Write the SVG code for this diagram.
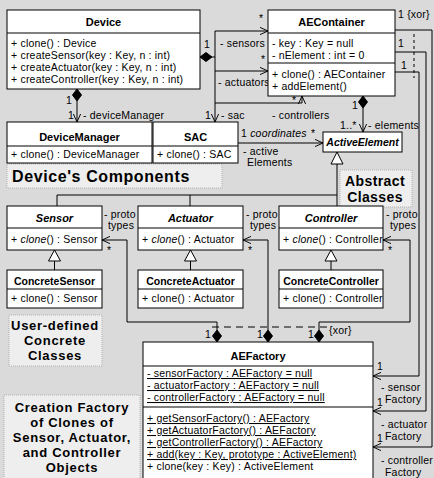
<svg xmlns="http://www.w3.org/2000/svg" width="434" height="478" viewBox="0 0 434 478">
<defs>
<marker id="oa" viewBox="0 0 10 10" refX="10" refY="5" markerWidth="8" markerHeight="8" orient="auto" markerUnits="userSpaceOnUse"><path d="M0,0.5 L10,5 L0,9.5" fill="none" stroke="#000" stroke-width="1.2"/></marker>
<style>
.box{fill:#fff;stroke:#000;stroke-width:1}
.ln{fill:none;stroke:#000;stroke-width:1}
.dash{fill:none;stroke:#000;stroke-width:1.2;stroke-dasharray:7 5}
.dsh{fill:none;stroke:#000;stroke-width:1;stroke-dasharray:3 3}
.dia{fill:#000;stroke:#000}
.tri{fill:#fff;stroke:#000;stroke-width:1}
text{font-family:"Liberation Sans",Arial,sans-serif;fill:#000}
.t{font-size:10.5px;letter-spacing:0.2px}
.ti{font-size:11px;font-weight:bold;text-anchor:middle}
.tc{font-size:10.5px;font-weight:bold;text-anchor:middle}
.it{font-style:italic}
.u{text-decoration:underline}
.lb{font-size:13px;font-weight:bold;text-anchor:middle;letter-spacing:0.7px}
.lbox{fill:#eeeeee;stroke:#b0b0b0;stroke-width:1;stroke-dasharray:1 1}
</style>
</defs>
<rect x="0" y="0" width="434" height="478" fill="#dadada"/>

<g id="label-components">
<rect class="lbox" x="7" y="164" width="215" height="24"/>
<text x="12" y="182" style="font-size:16px;font-weight:bold;letter-spacing:0.6px">Device's Components</text>
</g>
<g id="label-abstract">
<rect class="lbox" x="340" y="170" width="72" height="37"/>
<text class="lb" x="375" y="186" style="font-size:14px;letter-spacing:0.4px">Abstract</text>
<text class="lb" x="375" y="202" style="font-size:14px;letter-spacing:0.4px">Classes</text>
</g>
<g id="label-userdefined">
<rect class="lbox" x="9" y="315" width="93" height="51"/>
<text class="lb" x="55" y="330">User-defined</text>
<text class="lb" x="55" y="345">Concrete</text>
<text class="lb" x="55" y="360">Classes</text>
</g>
<g id="label-factory">
<rect class="lbox" x="4" y="395" width="136" height="90"/>
<text class="lb" x="72" y="412">Creation Factory</text>
<text class="lb" x="72" y="427">of Clones of</text>
<text class="lb" x="72" y="442">Sensor, Actuator,</text>
<text class="lb" x="72" y="457">and Controller</text>
<text class="lb" x="72" y="472">Objects</text>
</g>

<g id="connectors">
<polygon class="dia" points="200,57 206,52.5 212,57 206,61.5"/>
<path class="ln" d="M212,57 H215"/>
<path class="ln" d="M215,31 V122" marker-end="url(#oa)"/>
<path class="ln" d="M215,31 H268" marker-end="url(#oa)"/>
<path class="ln" d="M215,71 H268" marker-end="url(#oa)"/>
<path class="ln" d="M215,103 H302 V96" marker-end="url(#oa)"/>
<polygon class="dia" points="77,89 81.5,95 77,101 72.5,95"/>
<path class="ln" d="M77,101 V122" marker-end="url(#oa)"/>
<polygon class="dia" points="363,96 367.5,102 363,108 358.5,102"/>
<path class="ln" d="M363,108 V132" marker-end="url(#oa)"/>
<path class="ln" d="M238,143 H323" marker-end="url(#oa)"/>
<polygon class="tri" points="337,152 343,164 331,164"/>
<path class="ln" d="M337,164 V206 M57,206 V195 H337 M190,195 V206"/>
<polygon class="tri" points="54.5,250 60.5,261 48.5,261"/>
<path class="ln" d="M54.5,261 V270"/>
<polygon class="tri" points="190.5,250 196.5,261 184.5,261"/>
<path class="ln" d="M190.5,261 V270"/>
<polygon class="tri" points="331,250 337,261 325,261"/>
<path class="ln" d="M331,261 V270"/>
<path class="ln" d="M217,330 V322 H127 V240 H102" marker-end="url(#oa)"/>
<path class="ln" d="M268,330 V240 H243" marker-end="url(#oa)"/>
<path class="ln" d="M319,330 V322 H410 V240 H383" marker-end="url(#oa)"/>
<polygon class="dia" points="217,330 221.5,336 217,342 212.5,336"/>
<polygon class="dia" points="268,330 272.5,336 268,342 263.5,336"/>
<polygon class="dia" points="319,330 323.5,336 319,342 314.5,336"/>
<path class="dash" d="M212,327 H327"/>
<path class="ln" d="M395,30 H432 V447 H373" marker-end="url(#oa)"/>
<path class="ln" d="M395,52 H426 V411 H373" marker-end="url(#oa)"/>
<path class="ln" d="M395,72 H419 V376 H373" marker-end="url(#oa)"/>
<path class="dsh" d="M414,34 V78"/>

<text class="t" x="204" y="48">1</text>
<text class="t" x="220" y="47">- sensors</text>
<text class="t" x="259" y="22">*</text>
<text class="t" x="218" y="86">- actuators</text>
<text class="t" x="261" y="63">*</text>
<text class="t" x="292" y="104">*</text>
<text class="t" x="272" y="119">- controllers</text>
<text class="t" x="205" y="119">1</text>
<text class="t" x="221" y="119">- sac</text>
<text class="t" x="66" y="104">1</text>
<text class="t" x="68" y="119">1</text>
<text class="t" x="83" y="119">- deviceManager</text>
<text class="t" x="352" y="109">1</text>
<text class="t" x="340" y="129">1..*</text>
<text class="t" x="368" y="129">- elements</text>
<text class="t" x="241" y="137">1 <tspan class="it">coordinates</tspan></text>
<text class="t" x="311" y="137">*</text>
<text class="t" x="243" y="155">- active</text>
<text class="t" x="247" y="166">Elements</text>
<text class="t" x="104" y="218">- proto</text>
<text class="t" x="108" y="229">types</text>
<text class="t" x="107" y="254">*</text>
<text class="t" x="246" y="218">- proto</text>
<text class="t" x="250" y="229">types</text>
<text class="t" x="248" y="254">*</text>
<text class="t" x="386" y="218">- proto</text>
<text class="t" x="390" y="229">types</text>
<text class="t" x="388" y="254">*</text>
<text class="t" x="205" y="338">1</text>
<text class="t" x="257" y="338">1</text>
<text class="t" x="308" y="338">1</text>
<text class="t" x="329" y="334">{xor}</text>
<text class="t" x="398" y="18">1  {xor}</text>
<text class="t" x="398" y="47">1</text>
<text class="t" x="401" y="69">1</text>
<text class="t" x="377" y="370">1</text>
<text class="t" x="381" y="391">- sensor</text>
<text class="t" x="385" y="403">Factory</text>
<text class="t" x="377" y="406">1</text>
<text class="t" x="381" y="428">- actuator</text>
<text class="t" x="385" y="440">Factory</text>
<text class="t" x="377" y="442">1</text>
<text class="t" x="381" y="464">- controller</text>
<text class="t" x="385" y="476">Factory</text>
</g>

<g id="Device">
<rect class="box" x="7" y="10" width="193" height="79"/>
<path class="ln" d="M7,33 H200"/>
<text class="ti" x="103.5" y="26">Device</text>
<text class="t" x="11" y="47">+ clone() : Device</text>
<text class="t" x="11" y="59">+ createSensor(key : Key, n : int)</text>
<text class="t" x="11" y="71">+ createActuator(key : Key, n : int)</text>
<text class="t" x="11" y="83">+ createController(key : Key, n : int)</text>
</g>

<g id="AEContainer">
<rect class="box" x="268" y="10" width="127" height="86"/>
<path class="ln" d="M268,33 H395 M268,63 H395"/>
<text class="ti" x="331.5" y="26">AEContainer</text>
<text class="t" x="272" y="47">- key : Key = null</text>
<text class="t" x="272" y="59">- nElement : int = 0</text>
<text class="t" x="272" y="78">+ clone() : AEContainer</text>
<text class="t" x="272" y="90">+ addElement()</text>
</g>

<g id="DeviceManager">
<rect class="box" x="7" y="122" width="145" height="41"/>
<path class="ln" d="M7,146 H152"/>
<text class="ti" x="79.5" y="141">DeviceManager</text>
<text class="t" x="11" y="158">+ clone() : DeviceManager</text>
</g>

<g id="SAC">
<rect class="box" x="153" y="122" width="85" height="41"/>
<path class="ln" d="M153,146 H238"/>
<text class="ti" x="195.5" y="141">SAC</text>
<text class="t" x="157" y="158">+ clone() : SAC</text>
</g>

<g id="ActiveElement">
<rect class="box" x="323" y="132" width="79" height="20"/>
<text class="tc it" x="362.5" y="146">ActiveElement</text>
</g>

<g id="Sensor">
<rect class="box" x="7" y="206" width="95" height="44"/>
<path class="ln" d="M7,228 H102"/>
<text class="ti it" x="54.5" y="222">Sensor</text>
<text class="t" x="11" y="243">+ <tspan class="it">clone</tspan>() : Sensor</text>
</g>

<g id="Actuator">
<rect class="box" x="138" y="206" width="105" height="44"/>
<path class="ln" d="M138,228 H243"/>
<text class="ti it" x="190.5" y="222">Actuator</text>
<text class="t" x="142" y="243">+ <tspan class="it">clone</tspan>() : Actuator</text>
</g>

<g id="Controller">
<rect class="box" x="279" y="206" width="104" height="44"/>
<path class="ln" d="M279,228 H383"/>
<text class="ti it" x="331" y="222">Controller</text>
<text class="t" x="283" y="243">+ <tspan class="it">clone</tspan>() : Controller</text>
</g>

<g id="ConcreteSensor">
<rect class="box" x="7" y="270" width="95" height="38"/>
<path class="ln" d="M7,289 H102"/>
<text class="tc" x="54.5" y="285">ConcreteSensor</text>
<text class="t" x="11" y="302">+ clone() : Sensor</text>
</g>

<g id="ConcreteActuator">
<rect class="box" x="138" y="270" width="105" height="38"/>
<path class="ln" d="M138,289 H243"/>
<text class="tc" x="190.5" y="285">ConcreteActuator</text>
<text class="t" x="142" y="302">+ clone() : Actuator</text>
</g>

<g id="ConcreteController">
<rect class="box" x="279" y="270" width="104" height="38"/>
<path class="ln" d="M279,289 H383"/>
<text class="tc" x="331" y="285">ConcreteController</text>
<text class="t" x="283" y="302">+ clone() : Controller</text>
</g>

<g id="AEFactory">
<rect class="box" x="143" y="342" width="230" height="145"/>
<path class="ln" d="M143,366 H373 M143,407 H373"/>
<text class="ti" x="258" y="360">AEFactory</text>
<text class="t u" x="147" y="377">- sensorFactory : AEFactory = null</text>
<text class="t u" x="147" y="389">- actuatorFactory : AEFactory = null</text>
<text class="t u" x="147" y="401">- controllerFactory : AEFactory = null</text>
<text class="t u" x="147" y="422">+ getSensorFactory() : AEFactory</text>
<text class="t u" x="147" y="434">+ getActuatorFactory() : AEFactory</text>
<text class="t u" x="147" y="446">+ getControllerFactory() : AEFactory</text>
<text class="t u" x="147" y="458">+ add(key : Key, prototype : ActiveElement)</text>
<text class="t" x="147" y="470">+ clone(key : Key) : ActiveElement</text>
</g>
</svg>
